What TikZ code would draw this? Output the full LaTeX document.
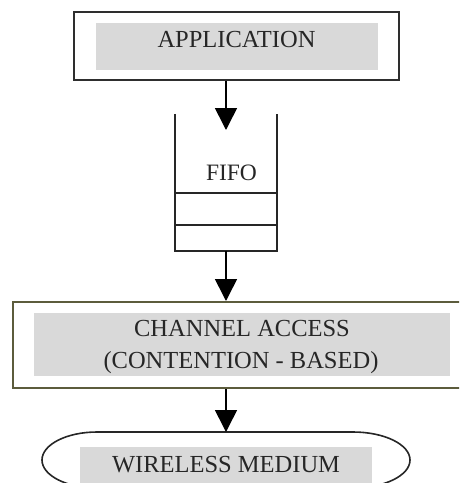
\documentclass[tikz,border=0pt]{standalone}
\usepackage{fontspec}
\setmainfont{Liberation Serif}
\usetikzlibrary{arrows.meta}
\definecolor{boxgray}{HTML}{D9D9D9}
\definecolor{edge}{HTML}{2E2E2E}
\definecolor{olive}{HTML}{5C5C3C}
\tikzset{
  outerbox/.style={draw=edge, line width=2pt, inner sep=0pt},
  grayfill/.style={fill=boxgray, inner sep=0pt},
  lbl/.style={inner sep=0pt, anchor=base, font=\fontsize{24.5}{29}\selectfont, text=black!85},
  wall/.style={draw=black!85, line width=1.6pt},
  arr/.style={draw=black, line width=1.6pt, -{Triangle[width=22pt,length=22pt]}}
}
\begin{document}
\begin{tikzpicture}[x=1pt,y=-1pt]
\useasboundingbox (0,0) rectangle (459,483);
\clip (0,0) rectangle (459,483);
% APPLICATION
\node[outerbox, minimum width=325, minimum height=68] (app) at (236.5,46) {};
\node[grayfill, minimum width=282, minimum height=47] (appfill) at (237,46.5) {};
\node[lbl] (apptxt) at (236.5,47) {APPLICATION};
% FIFO container
\node[inner sep=0pt, minimum width=102, minimum height=137] (fifo) at (226,182.5) {};
\draw[wall] (fifo.north west) -- (fifo.south west) -- (fifo.south east) -- (fifo.north east);
\coordinate (s1w) at (175,193); \coordinate (s1e) at (277,193);
\coordinate (s2w) at (175,225); \coordinate (s2e) at (277,225);
\draw[wall] (s1w) -- (s1e);
\draw[wall] (s2w) -- (s2e);
\node[lbl, font=\fontsize{23.5}{28}\selectfont] (fifotxt) at (231.5,180) {FIFO};
\coordinate (fifoin) at (226,130);
% CHANNEL ACCESS
\node[draw=olive, line width=2pt, inner sep=0pt, minimum width=470, minimum height=86] (chan) at (248,345) {};
\node[grayfill, minimum width=416, minimum height=63] (chanfill) at (242,344.5) {};
\node[lbl] (chantxt1) at (242,336) {CHANNEL ACCESS};
\node[lbl] (chantxt2) at (241,368) {(CONTENTION - BASED)};
% WIRELESS MEDIUM
\coordinate (wtop) at (226,432);
\node[grayfill, minimum width=292, minimum height=50] (wfill) at (226,472) {};
\draw[draw=black!85, line width=1.6pt] (97,488) arc[start angle=270, end angle=90, x radius=55, y radius=-28]
  -- (353,432) arc[start angle=90, end angle=-90, x radius=57, y radius=-28];
\node[lbl] (wtxt) at (226,472) {WIRELESS MEDIUM};
% arrows
\draw[arr] (app.south -| fifo.north) -- (fifoin);
\draw[arr] (fifo.south) -- (fifo.south |- chan.north);
\draw[arr] (chan.south -| fifo.south) -- (fifo.south |- wtop);
\end{tikzpicture}
\end{document}
